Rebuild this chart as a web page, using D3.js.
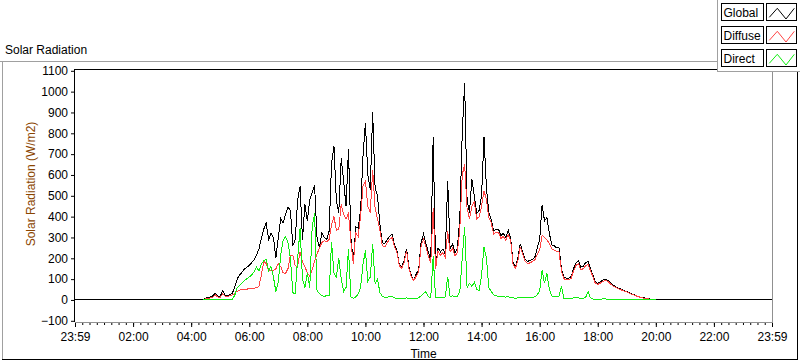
<!DOCTYPE html>
<html><head><meta charset="utf-8">
<script src="https://cdn.jsdelivr.net/npm/d3@7/dist/d3.min.js"></script>
<style>
body{margin:0;background:#fff;}
svg{display:block;font-family:"Liberation Sans",Arial,sans-serif;}
</style>
</head><body>
<svg id="chart" width="800" height="361"></svg>
<script>
// ---------- data ----------
const chartTitle = "Solar Radiation";
const yAxisLabel = "Solar Radiation (W/m2)";
const xAxisLabel = "Time";
const seriesNames = ["Global", "Diffuse", "Direct"];
const seriesColors = ["#000000", "#ff4444", "#11ee11"];
const yTickValues = [-100, 0, 100, 200, 300, 400, 500, 600, 700, 800, 900, 1000, 1100];
const xTickMinutes = [0, 120, 240, 360, 480, 600, 720, 840, 960, 1080, 1200, 1320, 1440];
const xTickLabels = ["23:59", "02:00", "04:00", "06:00", "08:00", "10:00", "12:00", "14:00", "16:00", "18:00", "20:00", "22:00", "23:59"];
const dayStartMinute = 0, dayEndMinute = 1440, nightValue = 0;
const sampleStartMinute = 240;   // 04:00
const sampleStepMinutes = 5;
const globalW = [
  0,0,0,0,0, 3,8,12,14,20, 32,18,16,45,24, 22,25,32,62,100,
  120,133,148,158,165, 179,193,215,245,295, 340,370,290,320,300, 200,300,390,370,410,
  445,430,260,290,480, 545,290,460,380,480, 515,550,300,250,320, 300,290,330,655,740,
  475,420,680,570,450, 725,300,183,350,345, 430,690,850,600,530, 900,540,500,360,275,
  270,290,305,315,265, 240,170,158,190,245, 160,115,96,125,145, 275,315,270,230,190,
  780,160,250,230,245, 220,570,245,270,225, 250,390,800,1040,480, 420,580,500,415,430,
  500,780,540,420,385, 330,340,340,310,320, 300,335,300,180,160, 200,270,230,195,185,
  190,195,205,250,290, 455,380,395,320,265, 260,250,250,150,110, 104,104,112,150,178,
  190,158,162,180,185, 150,120,85,80,85, 95,100,95,85,75, 66,60,55,50,45,
  40,35,30,25,20, 16,13,10,8,6, 4,2,0,0,0, 0,0,0,0
];
const diffuseW = [
  null,null,null,null,null, 2,5,8,10,14, 25,14,12,30,18, 17,20,24,32,42,
  47,50,50,52,54, 55,57,58,65,120, 185,175,140,140,142, 150,175,160,130,128,
  150,215,215,165,160, 230,180,160,130,115, 145,185,220,250,275, 285,280,290,360,400,
  335,340,460,410,390, 415,280,175,320,305, 400,545,570,450,420, 625,440,390,335,260,
  255,275,290,300,255, 230,165,152,180,235, 150,110,92,115,135, 260,290,255,210,180,
  440,150,235,215,228, 205,330,230,250,210, 230,340,600,650,440, 390,450,470,390,400,
  450,525,480,395,370, 315,325,325,295,305, 285,315,285,172,152, 190,255,220,185,175,
  178,185,192,220,240, 310,300,290,270,245, 240,232,230,140,102, 96,96,104,140,165,
  175,145,150,165,170, 140,112,80,75,80, 88,93,90,80,70, 63,57,52,47,43,
  38,33,28,23,19, 15,12,9,7,5, 3,1,0,null,null, null,null,null,null
];
const directW = [
  null,null,null,null,null, 0,0,0,0,0, 1,1,1,1,2, 2,2,3,22,58,
  70,82,94,102,110, 120,135,158,140,172, 188,195,140,160,110, 40,88,215,285,305,
  275,200,35,30,200, 343,100,60,130,60, 350,415,45,30,20, 18,20,22,280,130,
  110,200,100,40,60, 245,15,8,15,28, 60,170,239,90,110, 270,80,100,35,18,
  12,12,18,16,10, 8,8,6,8,10, 8,6,6,8,10, 20,30,40,15,12,
  210,10,12,10,12, 15,112,15,20,15, 18,40,200,350,60, 80,65,85,50,45,
  120,255,200,60,40, 25,20,18,15,15, 14,16,12,10,8, 10,12,10,12,12,
  10,12,15,25,45, 143,80,128,50,20, 15,15,18,65,8, 6,6,8,10,12,
  10,8,8,12,40, 10,5,3,3,4, 5,5,4,3,3, 2,2,2,2,1,
  1,1,1,0,0, 0,0,0,0,0, 0,0,0,null,null, null,null,null,null
];

// ---------- layout ----------
const svg = d3.select("#chart");
const plot = {left: 75, right: 772, top: 70, bottom: 322};

const x = d3.scaleLinear().domain([dayStartMinute, dayEndMinute]).range([plot.left, plot.right]);
const y = d3.scaleLinear().domain([-100, 1100]).range([320.8, 70.8]);

// outer panel borders
svg.append("line").attr("x1", 0).attr("x2", 717).attr("y1", 61.5).attr("y2", 61.5).attr("stroke", "#a0a0a0");
svg.append("line").attr("x1", 2.5).attr("x2", 2.5).attr("y1", 61.5).attr("y2", 359).attr("stroke", "#a0a0a0");
svg.append("line").attr("x1", 2).attr("x2", 798).attr("y1", 359.5).attr("y2", 359.5).attr("stroke", "#000");
svg.append("line").attr("x1", 797.5).attr("x2", 797.5).attr("y1", 70).attr("y2", 360).attr("stroke", "#000");

svg.append("text").attr("x", 5).attr("y", 54).attr("font-size", 12).attr("fill", "#000").text(chartTitle);

// plot frame
svg.append("rect").attr("x", plot.left).attr("y", plot.top).attr("width", plot.right - plot.left).attr("height", plot.bottom - plot.top).attr("fill", "#fff");
svg.append("line").attr("x1", plot.left).attr("x2", plot.right).attr("y1", plot.top - 0.5).attr("y2", plot.top - 0.5).attr("stroke", "#000");
svg.append("line").attr("x1", plot.right + 0.5).attr("x2", plot.right + 0.5).attr("y1", plot.top).attr("y2", plot.bottom).attr("stroke", "#909090");

// series
function buildPoints(vals, padNight) {
  const pts = vals.map((v, i) => ({t: sampleStartMinute + i * sampleStepMinutes, v}));
  if (padNight) {
    pts.unshift({t: dayStartMinute, v: nightValue});
    pts.push({t: dayEndMinute, v: nightValue});
  }
  return pts;
}
const seriesData = [buildPoints(globalW, true), buildPoints(diffuseW, false), buildPoints(directW, false)];
const line = d3.line().defined(d => d.v !== null).x(d => x(d.t)).y(d => y(d.v));
const gLines = svg.append("g");
seriesData.forEach((pts, i) => {
  gLines.append("path").datum(pts).attr("d", line).attr("fill", "none")
    .attr("stroke", seriesColors[i]).attr("stroke-width", 1)
    .attr("stroke-linejoin", "miter").attr("shape-rendering", "crispEdges");
});

// y axis
const yAxis = svg.append("g").attr("transform", `translate(${plot.left},0)`)
  .call(d3.axisLeft(y).tickValues(yTickValues).tickFormat(d3.format("d")).tickSize(4).tickPadding(3));
yAxis.select(".domain").remove();
svg.append("line").attr("x1", plot.left - 0.5).attr("x2", plot.left - 0.5).attr("y1", plot.top - 1).attr("y2", plot.bottom).attr("stroke", "#000");
yAxis.selectAll("text").attr("font-size", 12).attr("fill", "#000").attr("font-family", "Liberation Sans, Arial, sans-serif");
yAxis.selectAll(".tick line").attr("stroke", "#000");

// x axis (major + minor)
const xMinor = svg.append("g").attr("transform", `translate(0,${plot.bottom})`)
  .call(d3.axisBottom(x).tickValues(d3.range(dayStartMinute, dayEndMinute + 1, 15)).tickSize(3).tickFormat(""));
xMinor.select(".domain").remove();
xMinor.selectAll(".tick line").attr("stroke", "#000");
const xAxis = svg.append("g").attr("transform", `translate(0,${plot.bottom})`)
  .call(d3.axisBottom(x).tickValues(xTickMinutes).tickFormat((d, i) => xTickLabels[i]).tickSize(5).tickPadding(5));
xAxis.select(".domain").remove();
xAxis.selectAll(".tick line").attr("stroke", "#000");
xAxis.selectAll("text").attr("font-size", 12).attr("fill", "#000").attr("font-family", "Liberation Sans, Arial, sans-serif");
svg.append("line").attr("x1", plot.left).attr("x2", plot.right + 1).attr("y1", plot.bottom + 0.5).attr("y2", plot.bottom + 0.5).attr("stroke", "#909090");

// axis labels
svg.append("text").attr("x", (plot.left + plot.right) / 2).attr("y", 358).attr("text-anchor", "middle")
  .attr("font-size", 12).attr("fill", "#000").text(xAxisLabel);
svg.append("text").attr("transform", "translate(35,184) rotate(-90)").attr("text-anchor", "middle")
  .attr("font-size", 12).attr("fill", "#8a4500").text(yAxisLabel);

// legend
const lg = svg.append("g");
lg.append("rect").attr("x", 717.5).attr("y", -1).attr("width", 90).attr("height", 72.5).attr("fill", "#fff").attr("stroke", "#a0a0a0");
seriesNames.forEach((name, i) => {
  const top = 3.5 + i * 23;
  lg.append("rect").attr("x", 721.5).attr("y", top).attr("width", 42).attr("height", 17).attr("fill", "#fff").attr("stroke", "#000");
  lg.append("text").attr("x", 723.5).attr("y", top + 13.5).attr("font-size", 12).attr("fill", "#000").text(name);
  lg.append("rect").attr("x", 766.5).attr("y", top).attr("width", 30).attr("height", 17).attr("fill", "#fff").attr("stroke", "#000");
  const zz = [[2.8, 13.8], [10.8, 4.8], [19.5, 15.5], [27.8, 4.8]].map(p => [766.5 + p[0], top + p[1]]);
  lg.append("path").attr("d", d3.line()(zz)).attr("fill", "none").attr("stroke", seriesColors[i]).attr("stroke-width", 1);
});
</script>
</body></html>
